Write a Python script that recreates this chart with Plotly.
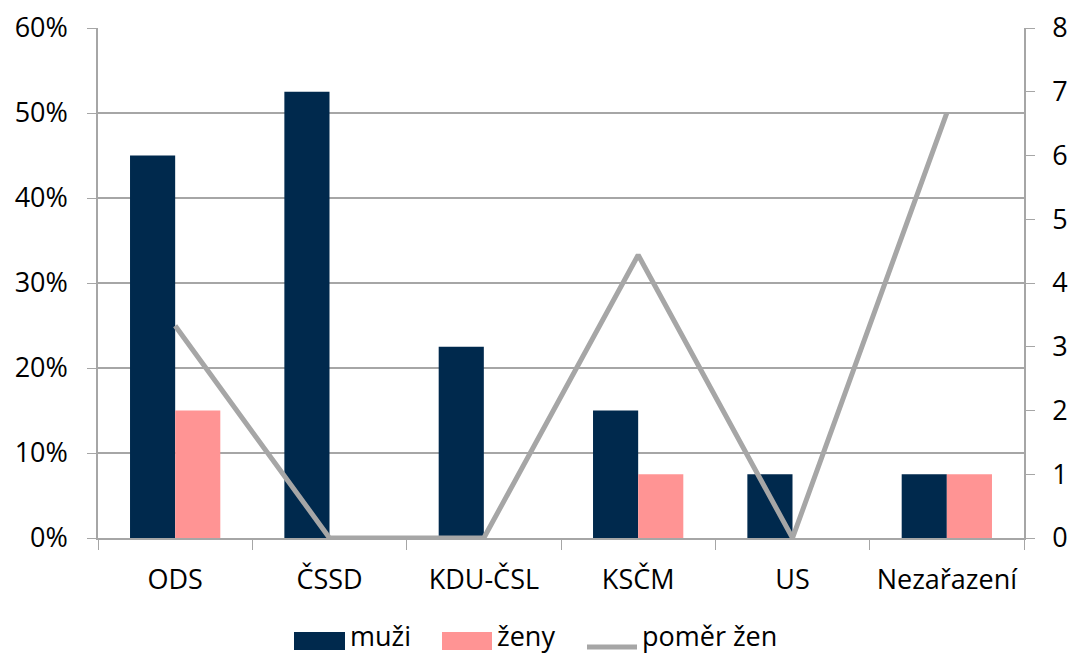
import plotly.graph_objects as go

categories = ["ODS", "ČSSD", "KDU-ČSL", "KSČM", "US", "Nezařazení"]
muzi = [0.45, 0.525, 0.225, 0.15, 0.075, 0.075]
zeny = [0.15, 0.0, 0.0, 0.075, 0.0, 0.075]
pomer_zen = [3.33, 0.0, 0.0, 4.44, 0.0, 6.67]
series_names = ["muži", "ženy", "poměr žen"]

FONT = "Open Sans"
GRID = "#A6A6A6"
NAVY = "#00294D"
PINK = "#FF9494"
LINE = "#A6A6A6"
FS = 27

W, H = 1073, 655
L, R, T, B = 98, 49, 28, 117
PW, PH = W - L - R, H - T - B


def px_x(px):
    return (px - L) / PW


def px_y(py):
    return (H - B - py) / PH


fig = go.Figure()
fig.add_trace(go.Bar(x=categories, y=muzi, name=series_names[0], marker_color=NAVY,
                     marker_line_width=0))
fig.add_trace(go.Bar(x=categories, y=zeny, name=series_names[1], marker_color=PINK,
                     marker_line_width=0))
fig.add_trace(go.Scatter(x=categories, y=pomer_zen, name=series_names[2], yaxis="y2",
                         mode="lines", line=dict(color=LINE, width=5)))

# custom legend (wide swatches like the reference)
shapes = [
    dict(type="rect", xref="paper", yref="paper", x0=px_x(294), x1=px_x(345),
         y0=px_y(650), y1=px_y(632), fillcolor=NAVY, line_width=0),
    dict(type="rect", xref="paper", yref="paper", x0=px_x(442), x1=px_x(492),
         y0=px_y(650), y1=px_y(632), fillcolor=PINK, line_width=0),
    dict(type="line", xref="paper", yref="paper", x0=px_x(587), x1=px_x(637),
         y0=px_y(647), y1=px_y(647), line=dict(color=LINE, width=5)),
]
LEG_Y = 635
annotations = [
    dict(text=series_names[0], xref="paper", yref="paper", x=px_x(348), y=px_y(LEG_Y),
         xanchor="left", yanchor="middle", showarrow=False, font=dict(size=FS)),
    dict(text=series_names[1], xref="paper", yref="paper", x=px_x(495), y=px_y(LEG_Y),
         xanchor="left", yanchor="middle", showarrow=False, font=dict(size=FS)),
    dict(text=series_names[2], xref="paper", yref="paper", x=px_x(640), y=px_y(LEG_Y),
         xanchor="left", yanchor="middle", showarrow=False, font=dict(size=FS)),
]

fig.update_layout(
    width=W, height=H,
    margin=dict(l=L, r=R, t=T, b=B, autoexpand=False),
    paper_bgcolor="white", plot_bgcolor="white",
    font=dict(family=FONT, size=FS, color="#000000"),
    barmode="group", bargap=0.415, bargroupgap=0,
    showlegend=False,
    shapes=shapes, annotations=annotations,
    xaxis=dict(type="category", showline=True, linecolor=GRID, linewidth=1.5,
               ticks="outside", tickson="boundaries", ticklen=10, tickcolor=GRID,
               showgrid=False, tickfont=dict(size=FS), ticklabelstandoff=17,
               automargin=False),
    yaxis=dict(range=[0, 0.6], dtick=0.1, tickformat=".0%", showline=True,
               linecolor=GRID, linewidth=1.5, ticks="outside", ticklen=9,
               tickcolor=GRID, showgrid=True, gridcolor=GRID, gridwidth=1.5,
               zeroline=False, tickfont=dict(size=FS), ticklabelstandoff=14,
               automargin=False),
    yaxis2=dict(range=[0, 8], dtick=1, overlaying="y", side="right", showline=True,
                linecolor=GRID, linewidth=1.5, ticks="outside", ticklen=9,
                tickcolor=GRID, showgrid=False, zeroline=False,
                tickfont=dict(size=FS), ticklabelstandoff=12, automargin=False),
)

fig.write_html("out.html", config={"displayModeBar": False},
               post_script="document.body.style.margin='0';")
